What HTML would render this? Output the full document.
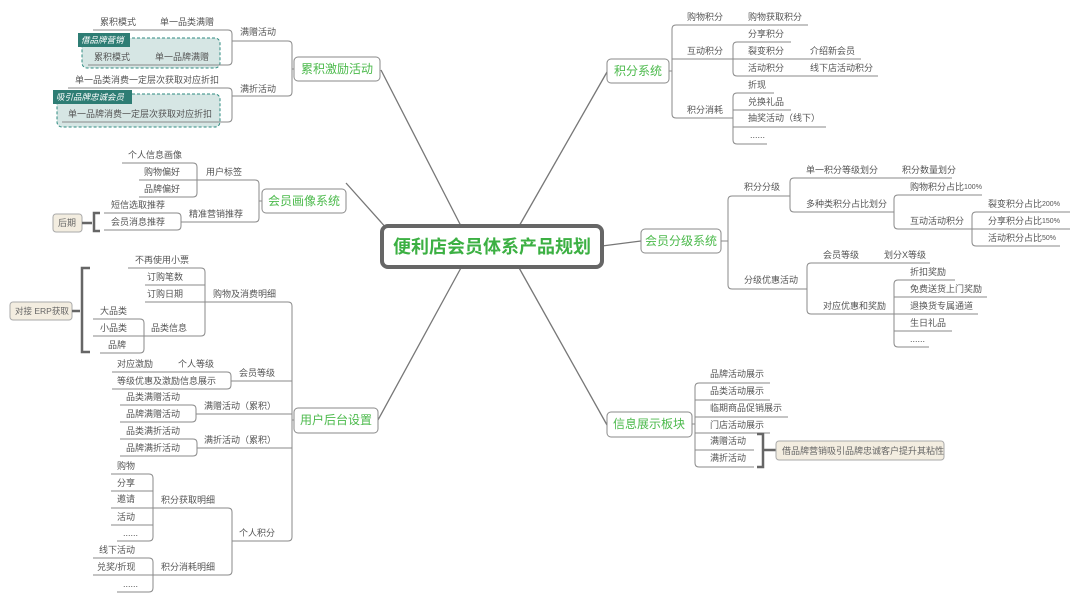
<!DOCTYPE html>
<html><head><meta charset="utf-8"><style>
html,body{margin:0;padding:0;background:#fff;}
svg{display:block;}
text{font-family:"Liberation Sans","Noto Sans CJK SC",sans-serif;font-size:9px;fill:#555;dominant-baseline:central;}
.l{stroke:#8a8a8a;stroke-width:1;fill:none;}
.m{fill:#fff;stroke:#8a8a8a;stroke-width:1;}
.mt{font-size:12px;fill:#4cba4c;text-anchor:middle;}
.c{stroke:#777;stroke-width:1.3;fill:none;}
.b{stroke:#666;stroke-width:3;fill:none;}
</style></head><body>
<svg width="1080" height="602" viewBox="0 0 1080 602" xmlns="http://www.w3.org/2000/svg">
<!-- central connectors -->
<path class="c" d="M381 70 L462 228"/>
<path class="c" d="M346 183 L388 230"/>
<path class="c" d="M378 420 L462 266"/>
<path class="c" d="M607 72 L518 228"/>
<path class="c" d="M641 241 L602 246"/>
<path class="c" d="M607 425 L518 266"/>
<!-- center -->
<rect x="382" y="226" width="220" height="41" rx="6" fill="#fff" stroke="#666" stroke-width="4"/>
<text x="492" y="247" style="font-size:18px;font-weight:bold;fill:#3cb043;text-anchor:middle;">便利店会员体系产品规划</text>

<!-- 累积激励活动 -->
<rect class="m" x="294" y="57" width="86" height="24" rx="4"/><text class="mt" x="337" y="69">累积激励活动</text>
<path class="l" d="M294 69 H292 M232 41 H288 Q292 41 292 45 V92 Q292 96 288 96 H232"/>
<text x="240" y="32">满赠活动</text><text x="240" y="89">满折活动</text>
<path class="l" d="M93 30 H228 Q232 30 232 34 V61 Q232 65 228 65 H88"/>
<text x="100" y="22">累积模式</text><text x="160" y="22">单一品类满赠</text>
<rect x="82" y="38" width="138" height="30" rx="5" fill="#d6e6e4" stroke="#2e8b80" stroke-dasharray="3,2"/>
<rect x="78" y="33" width="52" height="14" fill="#2e7d74"/>
<text x="81" y="40" style="fill:#fff;font-style:italic;font-size:8.5px;">借品牌营销</text>
<text x="94" y="57">累积模式</text><text x="155" y="57">单一品牌满赠</text>
<path class="l" d="M88 65 H220"/>
<path class="l" d="M68 88 H228 Q232 88 232 92 V118 Q232 122 228 122 H60"/>
<text x="75" y="80">单一品类消费一定层次获取对应折扣</text>
<rect x="57" y="94" width="163" height="33" rx="5" fill="#d6e6e4" stroke="#2e8b80" stroke-dasharray="3,2"/>
<rect x="53" y="90" width="79" height="14" fill="#2e7d74"/>
<text x="56" y="97" style="fill:#fff;font-style:italic;font-size:8.5px;">吸引品牌忠诚会员</text>
<text x="68" y="114">单一品牌消费一定层次获取对应折扣</text>
<path class="l" d="M62 122 H220"/>

<!-- 会员画像系统 -->
<rect class="m" x="262" y="189" width="84" height="24" rx="4"/><text class="mt" x="304" y="201">会员画像系统</text>
<path class="l" d="M262 201 H259 M197 180 H255 Q259 180 259 184 V218 Q259 222 255 222 H181"/>
<text x="206" y="172">用户标签</text><text x="189" y="214">精准营销推荐</text>
<path class="l" d="M122 163 H193 Q197 163 197 167 V193 Q197 197 193 197 H139 M139 180 H197"/>
<text x="128" y="155">个人信息画像</text><text x="144" y="172">购物偏好</text><text x="144" y="189">品牌偏好</text>
<path class="l" d="M104 213 H177 Q181 213 181 217 V226 Q181 230 177 230 H104"/>
<text x="111" y="205">短信选取推荐</text><text x="111" y="222">会员消息推荐</text>
<rect x="53" y="214" width="29" height="18" rx="3" fill="#f3ede0" stroke="#aaa"/>
<text x="58" y="223" style="fill:#666">后期</text>
<path class="b" d="M82 223 H92 M100 213 H94 V231 H100" style="stroke-width:2.5"/>

<!-- 用户后台设置 -->
<rect class="m" x="294" y="408" width="84" height="25" rx="4"/><text class="mt" x="336" y="420">用户后台设置</text>
<path class="l" d="M294 420 H292 M205 302 H288 Q292 302 292 306 V537 Q292 541 288 541 H232"/>
<text x="213" y="294">购物及消费明细</text>
<path class="l" d="M128 268 H201 Q205 268 205 272 V332 Q205 336 201 336 H144 M145 285 H205"/>
<path class="l" d="M145 302 H205"/>
<text x="135" y="260">不再使用小票</text><text x="147" y="277">订购笔数</text><text x="147" y="294">订购日期</text>
<text x="151" y="328">品类信息</text>
<path class="l" d="M93 319 H140 Q144 319 144 323 V349 Q144 353 140 353 H100 M93 336 H144"/>
<text x="100" y="311">大品类</text><text x="100" y="328">小品类</text><text x="108" y="345">品牌</text>
<rect x="10" y="302" width="62" height="18" rx="3" fill="#f3ede0" stroke="#aaa"/>
<text x="15" y="311" style="fill:#666;font-size:8.5px">对接 ERP获取</text>
<path class="b" d="M72 311 H80 M90 268 H82 V352 H90" style="stroke-width:2.5"/>
<path class="l" d="M112 372 H227 Q231 372 231 376 V385 Q231 389 227 389 H112 M231 381 H292"/>
<text x="117" y="364">对应激励</text><text x="178" y="364">个人等级</text><text x="117" y="381">等级优惠及激励信息展示</text><text x="239" y="373">会员等级</text>
<path class="l" d="M120 405 H192 Q196 405 196 409 V418 Q196 422 192 422 H120 M196 414 H292"/>
<text x="126" y="397">品类满赠活动</text><text x="126" y="414">品牌满赠活动</text><text x="204" y="406">满赠活动（累积）</text>
<path class="l" d="M120 439 H193 Q197 439 197 443 V452 Q197 456 193 456 H120 M197 448 H292"/>
<text x="126" y="431">品类满折活动</text><text x="126" y="448">品牌满折活动</text><text x="204" y="440">满折活动（累积）</text>
<path class="l" d="M232 541 V512 Q232 508 228 508 H153 M232 541 V571 Q232 575 228 575 H153"/>
<text x="239" y="533">个人积分</text><text x="161" y="500">积分获取明细</text><text x="161" y="567">积分消耗明细</text>
<path class="l" d="M111 474 H149 Q153 474 153 478 V537 Q153 541 149 541 H117 M111 491 H153 M111 508 H153 M111 525 H153"/>
<text x="117" y="466">购物</text><text x="117" y="483">分享</text><text x="117" y="499">邀请</text><text x="117" y="517">活动</text><text x="123" y="533">......</text>
<path class="l" d="M93 558 H149 Q153 558 153 562 V588 Q153 592 149 592 H117 M93 575 H153"/>
<text x="99" y="550">线下活动</text><text x="97" y="567">兑奖/折现</text><text x="123" y="584">......</text>

<!-- 积分系统 -->
<rect class="m" x="607" y="59" width="62" height="24" rx="4"/><text class="mt" x="638" y="71">积分系统</text>
<path class="l" d="M669 71 H672 M808 25 H676 Q672 25 672 29 V114 Q672 118 676 118 H733 M672 59 H733"/>
<text x="687" y="17">购物积分</text><text x="748" y="17">购物获取积分</text>
<text x="687" y="51">互动积分</text><text x="687" y="110">积分消耗</text>
<path class="l" d="M791 42 H737 Q733 42 733 46 V72 Q733 76 737 76 H878 M733 59 H861"/>
<text x="748" y="34">分享积分</text><text x="748" y="51">裂变积分</text><text x="810" y="51">介绍新会员</text>
<text x="748" y="68">活动积分</text><text x="810" y="68">线下店活动积分</text>
<path class="l" d="M774 93 H737 Q733 93 733 97 V140 Q733 144 737 144 H767 M733 110 H791 M733 127 H826"/>
<text x="748" y="85">折现</text><text x="748" y="102">兑换礼品</text><text x="748" y="118">抽奖活动（线下）</text><text x="750" y="135">......</text>

<!-- 会员分级系统 -->
<rect class="m" x="641" y="229" width="80" height="24" rx="4"/><text class="mt" x="681" y="241">会员分级系统</text>
<path class="l" d="M721 241 H728 M790 196 H732 Q728 196 728 200 V285 Q728 289 732 289 H807"/>
<text x="744" y="187">积分分级</text><text x="744" y="280">分级优惠活动</text>
<path class="l" d="M952 178 H794 Q790 178 790 182 V208 Q790 212 794 212 H894"/>
<text x="806" y="170">单一积分等级划分</text><text x="902" y="170">积分数量划分</text><text x="806" y="204">多种类积分占比划分</text>
<path class="l" d="M982 195 H898 Q894 195 894 199 V225 Q894 229 898 229 H972"/>
<text x="910" y="187">购物积分占比<tspan style="font-size:7px">100%</tspan></text><text x="910" y="221">互动活动积分</text>
<path class="l" d="M1070 212 H976 Q972 212 972 216 V242 Q972 246 976 246 H1060 M972 229 H1070"/>
<text x="988" y="204">裂变积分占比<tspan style="font-size:7px">200%</tspan></text>
<text x="988" y="221">分享积分占比<tspan style="font-size:7px">150%</tspan></text>
<text x="988" y="238">活动积分占比<tspan style="font-size:7px">50%</tspan></text>
<path class="l" d="M930 263 H811 Q807 263 807 267 V310 Q807 314 811 314 H894"/>
<text x="823" y="255">会员等级</text><text x="884" y="255">划分X等级</text><text x="823" y="306">对应优惠和奖励</text>
<path class="l" d="M955 280 H898 Q894 280 894 284 V343 Q894 347 898 347 H929 M894 297 H987 M894 314 H978 M894 331 H952"/>
<text x="910" y="272">折扣奖励</text><text x="910" y="289">免费送货上门奖励</text><text x="910" y="306">退换货专属通道</text><text x="910" y="323">生日礼品</text><text x="910" y="339">......</text>

<!-- 信息展示板块 -->
<rect class="m" x="607" y="412" width="85" height="25" rx="4"/><text class="mt" x="649" y="424">信息展示板块</text>
<path class="l" d="M692 424 H695 M770 383 H699 Q695 383 695 387 V463 Q695 467 699 467 H754 M695 400 H770 M695 417 H788 M695 433 H770 M695 450 H754"/>
<text x="710" y="374">品牌活动展示</text><text x="710" y="391">品类活动展示</text><text x="710" y="408">临期商品促销展示</text>
<text x="710" y="425">门店活动展示</text><text x="710" y="441">满赠活动</text><text x="710" y="458">满折活动</text>
<path class="b" d="M757 434 H763 V467 H757 M763 450 H776" style="stroke-width:2.5"/>
<rect x="776" y="441" width="168" height="19" rx="3" fill="#f3ede0" stroke="#aaa"/>
<text x="782" y="451" style="fill:#666">借品牌营销吸引品牌忠诚客户提升其粘性</text>
</svg>
</body></html>
